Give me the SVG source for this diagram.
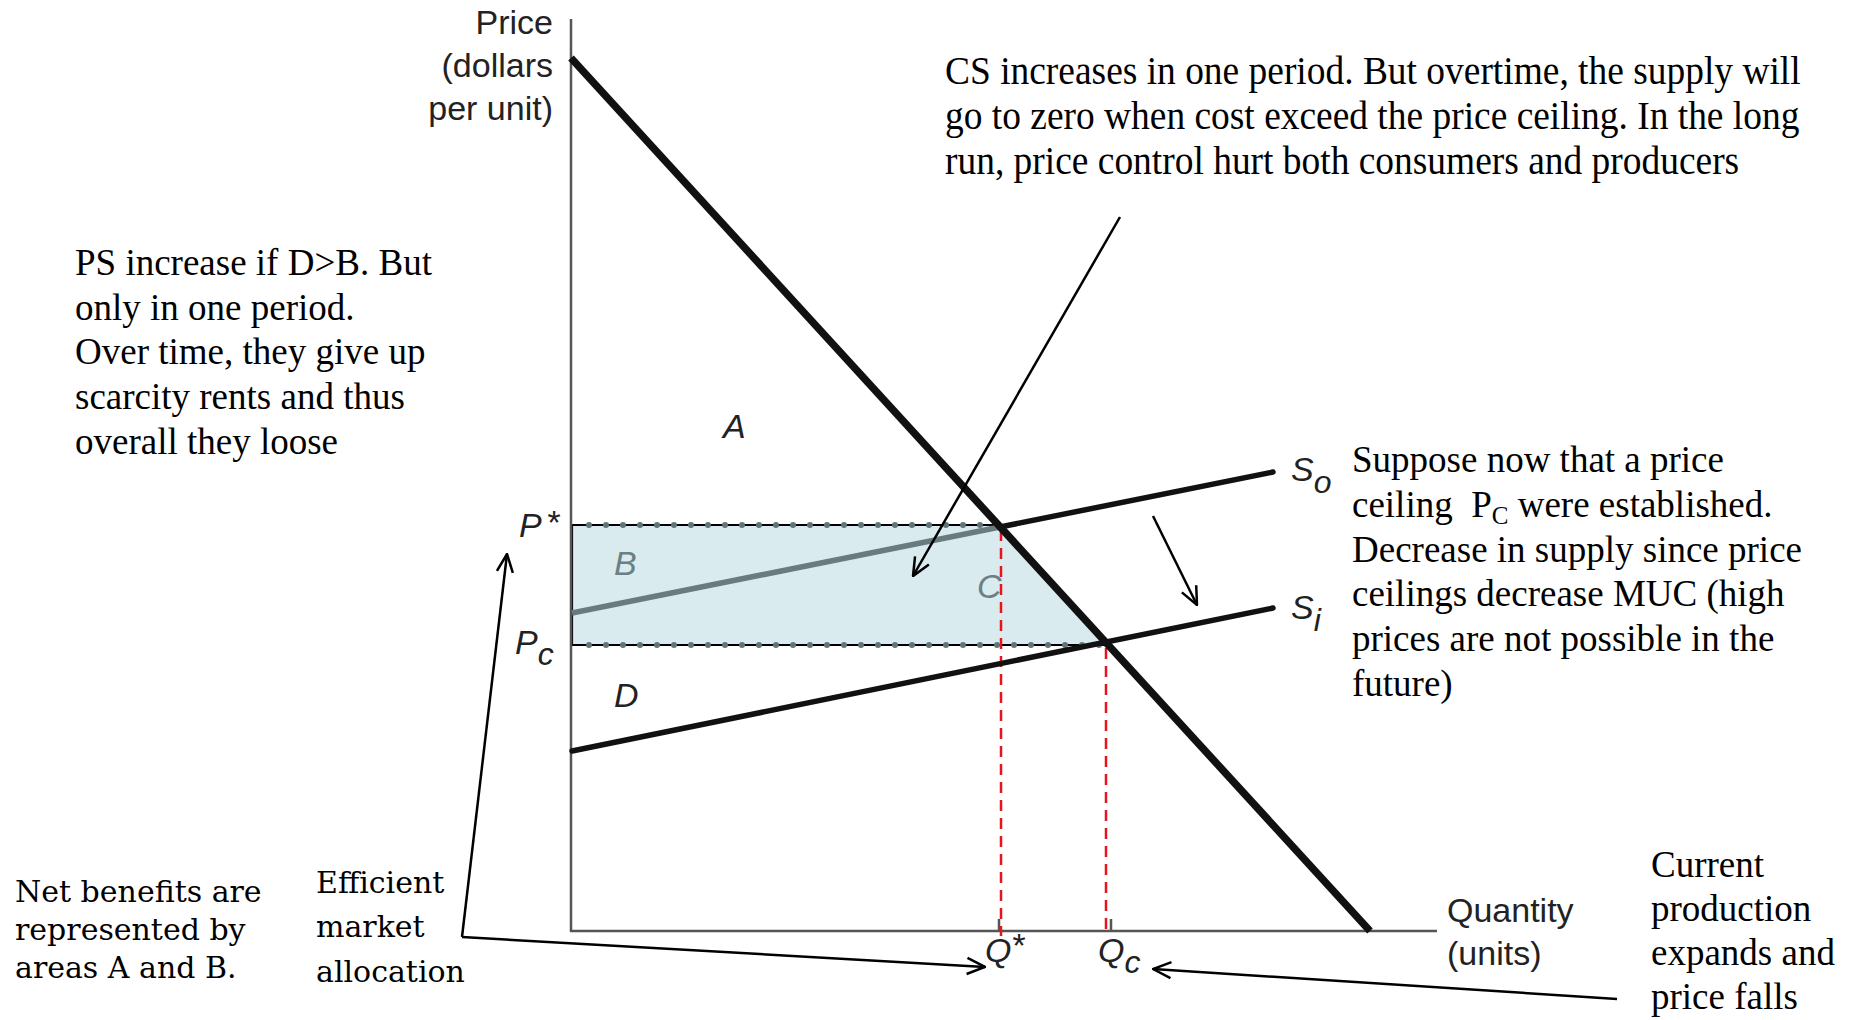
<svg xmlns="http://www.w3.org/2000/svg" width="1849" height="1020" viewBox="0 0 1849 1020">
<defs>
<style>
.ax{stroke:#555;stroke-width:2.5;fill:none}
.sans{font-family:"Liberation Sans",Arial,sans-serif;fill:#222}
.lab{font-family:"Liberation Sans",Arial,sans-serif;font-style:italic;font-size:34px;fill:#222}
.sub{font-size:32px}
.glab{fill:#6b7f84}
.tnr{font-family:"Liberation Serif","Times New Roman",serif;font-size:37px;fill:#000}
.bk{font-family:"DejaVu Serif",serif;font-size:30px;fill:#000}
.conn{stroke:#000;stroke-width:2.5;fill:none;marker-end:url(#ah)}
.red{stroke:#e8141b;stroke-width:2.5;stroke-dasharray:11 7;fill:none}
.dots{stroke:#617578;stroke-width:6;stroke-linecap:round;stroke-dasharray:0 17;fill:none}
</style>
<marker id="ah" viewBox="0 0 20 20" refX="19" refY="10" markerWidth="20" markerHeight="20" markerUnits="userSpaceOnUse" orient="auto">
<path d="M1,2 L19,10 L1,18" fill="none" stroke="#000" stroke-width="2.5"/>
</marker>
</defs>
<rect width="1849" height="1020" fill="#fff"/>

<g id="region">
<polygon points="572,525 1000,525 1107,645 572,645" fill="#d9ebee"/>
<path d="M1000,525 L572,525 L572,645 L1107,645" fill="none" stroke="#000" stroke-width="2.2"/>
<line class="dots" x1="589" y1="525" x2="990" y2="525"/>
<line class="dots" x1="589" y1="645" x2="1100" y2="645"/>
</g>

<g id="axes">
<line class="ax" x1="571" y1="19" x2="571" y2="932"/>
<line class="ax" x1="570" y1="931" x2="1437" y2="931"/>
<line class="ax" x1="999" y1="931" x2="999" y2="919"/>
<line class="ax" x1="1111" y1="931" x2="1111" y2="919"/>
<text class="sans" font-size="34" text-anchor="end"><tspan x="553" y="34">Price</tspan><tspan x="553" y="77">(dollars</tspan><tspan x="553" y="120">per unit)</tspan></text>
<text class="sans" font-size="34"><tspan x="1447" y="922">Quantity</tspan><tspan x="1447" y="965">(units)</tspan></text>
</g>

<g id="guides">
<line class="red" x1="1001" y1="530" x2="1001" y2="936"/>
<line class="red" x1="1106" y1="648" x2="1106" y2="936"/>
</g>

<g id="supply-so">
<line x1="572" y1="613" x2="1000" y2="527" stroke="#687b7f" stroke-width="5.5"/>
<line x1="1000" y1="527" x2="1273" y2="472" stroke="#111" stroke-width="5.5" stroke-linecap="round"/>
<text class="lab" x="1291" y="481">S<tspan class="sub" dy="12">o</tspan></text>
</g>
<g id="supply-si">
<line x1="572" y1="751" x2="1273" y2="608" stroke="#111" stroke-width="5.5" stroke-linecap="round"/>
<text class="lab" x="1291" y="619">S<tspan class="sub" dy="12">i</tspan></text>
</g>
<g id="demand">
<line x1="571" y1="58" x2="1370" y2="931" stroke="#111" stroke-width="7.5"/>
</g>

<g id="labels">
<text class="lab" x="519" y="537">P</text>
<text class="lab" x="546" y="534" font-size="23">*</text>
<text class="lab" x="515" y="654">P<tspan class="sub" dy="11">c</tspan></text>
<text class="lab" x="985" y="962">Q</text>
<text class="lab" x="1011" y="957" font-size="23">*</text>
<text class="lab" x="1098" y="962">Q<tspan class="sub" dy="11">c</tspan></text>
<text class="lab" x="723" y="438">A</text>
<text class="lab glab" x="614" y="575">B</text>
<text class="lab glab" x="977" y="598">C</text>
<text class="lab" x="614" y="707">D</text>
</g>

<g id="note-cs">
<text class="tnr" transform="translate(945,84) scale(1.012,1.1)"><tspan x="0" y="0">CS increases in one period. But overtime, the supply will</tspan><tspan x="0" y="41">go to zero when cost exceed the price ceiling. In the long</tspan><tspan x="0" y="82">run, price control hurt both consumers and producers</tspan></text>
</g>
<g id="note-ps">
<text class="tnr"><tspan x="75" y="275">PS increase if D&gt;B. But</tspan><tspan x="75" y="320">only in one period.</tspan><tspan x="75" y="364">Over time, they give up</tspan><tspan x="75" y="409">scarcity rents and thus</tspan><tspan x="75" y="454">overall they loose</tspan></text>
</g>
<g id="note-ceiling">
<text class="tnr"><tspan x="1352" y="472">Suppose now that a price</tspan><tspan x="1352" y="517">ceiling &#160;P<tspan font-size="25" dy="7">C</tspan><tspan dy="-7"> were established.</tspan></tspan><tspan x="1352" y="562">Decrease in supply since price</tspan><tspan x="1352" y="606">ceilings decrease MUC (high</tspan><tspan x="1352" y="651">prices are not possible in the</tspan><tspan x="1352" y="696">future)</tspan></text>
</g>
<g id="note-net">
<text class="bk"><tspan x="15" y="902">Net benefits are</tspan><tspan x="15" y="940">represented by</tspan><tspan x="15" y="978">areas A and B.</tspan></text>
</g>
<g id="note-efficient">
<text class="bk"><tspan x="316" y="893">Efficient</tspan><tspan x="316" y="937">market</tspan><tspan x="316" y="982">allocation</tspan></text>
</g>
<g id="note-current">
<text class="tnr"><tspan x="1651" y="877">Current</tspan><tspan x="1651" y="921">production</tspan><tspan x="1651" y="965">expands and</tspan><tspan x="1651" y="1009">price falls</tspan></text>
</g>

<g id="connectors">
<line class="conn" x1="1120" y1="217" x2="913" y2="576"/>
<line class="conn" x1="1153" y1="516" x2="1197" y2="605"/>
<line class="conn" x1="462" y1="937" x2="507" y2="554"/>
<line class="conn" x1="462" y1="937" x2="985" y2="967"/>
<line class="conn" x1="1617" y1="999" x2="1153" y2="969"/>
</g>
</svg>
